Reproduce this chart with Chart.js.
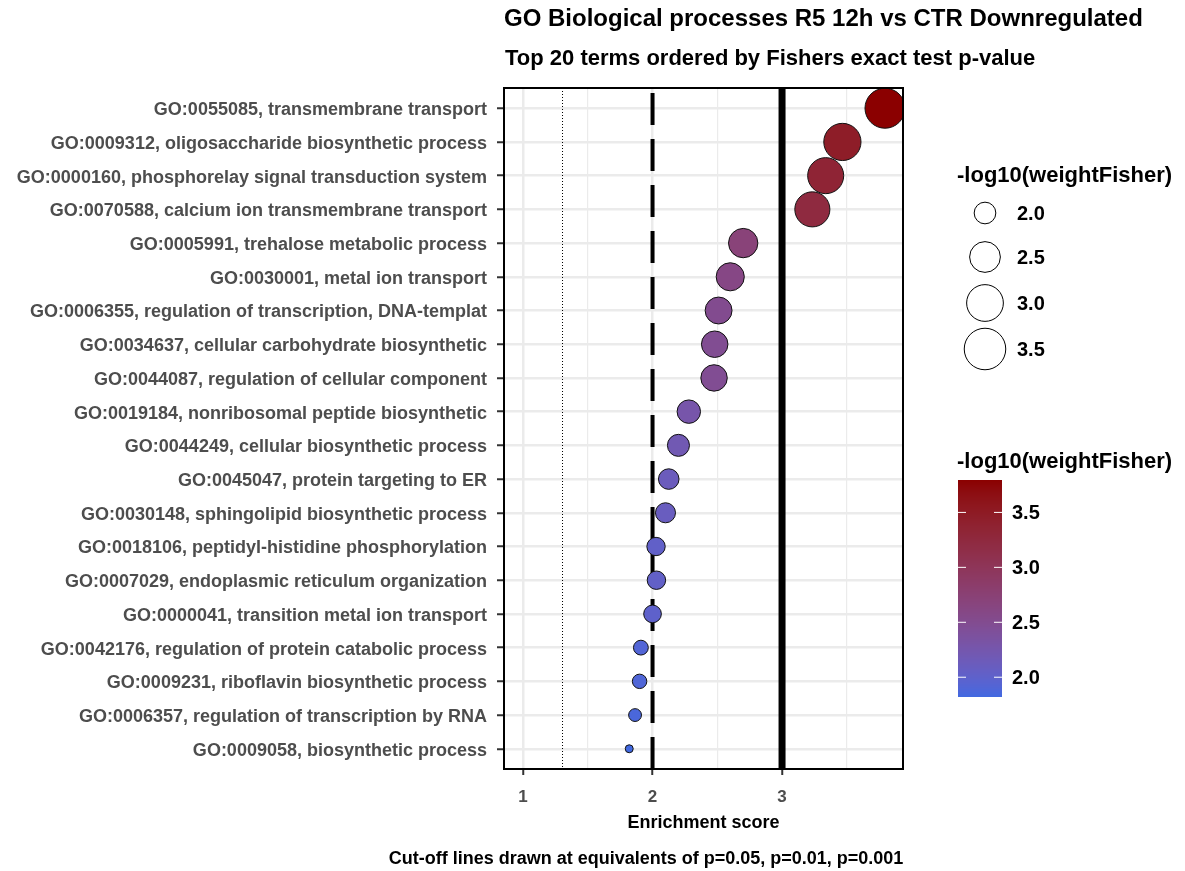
<!DOCTYPE html>
<html>
<head>
<meta charset="utf-8">
<script src="https://cdn.jsdelivr.net/npm/chart.js@4.4.1/dist/chart.umd.min.js"></script>
<style>
  html, body { margin: 0; padding: 0; background: #fff; }
  #wrap { width: 1185px; height: 871px; position: relative; }
</style>
</head>
<body>
<div id="wrap"><canvas id="go"></canvas></div>
<script>
"use strict"
const terms = [
    "GO:0055085, transmembrane transport",
    "GO:0009312, oligosaccharide biosynthetic process",
    "GO:0000160, phosphorelay signal transduction system",
    "GO:0070588, calcium ion transmembrane transport",
    "GO:0005991, trehalose metabolic process",
    "GO:0030001, metal ion transport",
    "GO:0006355, regulation of transcription, DNA-templat",
    "GO:0034637, cellular carbohydrate biosynthetic",
    "GO:0044087, regulation of cellular component",
    "GO:0019184, nonribosomal peptide biosynthetic",
    "GO:0044249, cellular biosynthetic process",
    "GO:0045047, protein targeting to ER",
    "GO:0030148, sphingolipid biosynthetic process",
    "GO:0018106, peptidyl-histidine phosphorylation",
    "GO:0007029, endoplasmic reticulum organization",
    "GO:0000041, transition metal ion transport",
    "GO:0042176, regulation of protein catabolic process",
    "GO:0009231, riboflavin biosynthetic process",
    "GO:0006357, regulation of transcription by RNA",
    "GO:0009058, biosynthetic process"
];
// enrichment score (= -log10(weightFisher))
const enrichment = [3.795, 3.466, 3.337, 3.234, 2.70, 2.60, 2.51, 2.48, 2.475, 2.28,
    2.20, 2.125, 2.10, 2.027, 2.03, 2.00, 1.91, 1.90, 1.865, 1.82];
const weightFisher = enrichment.slice();

const xTicks = [1, 1.5, 2, 2.5, 3, 3.5];
const sizeBreaks = [2.0, 2.5, 3.0, 3.5];
const colorBreaks = [2.0, 2.5, 3.0, 3.5];
const cutoffs = [-Math.log10(0.05), -Math.log10(0.01), -Math.log10(0.001)];

const lowCol = [65, 105, 225];   // royalblue
const highCol = [139, 0, 0];     // darkred
const vMin = Math.min(...weightFisher);
const vMax = Math.max(...weightFisher);

const FONT = "'Liberation Sans', Arial, sans-serif";

// --- Lab colour ramp like ggplot's gradient ---
function lin(c) { c /= 255; return c <= 0.04045 ? c / 12.92 : Math.pow((c + 0.055) / 1.055, 2.4); }
function unlin(c) { c = c <= 0.0031308 ? 12.92 * c : 1.055 * Math.pow(c, 1 / 2.4) - 0.055; return Math.round(Math.max(0, Math.min(1, c)) * 255); }
function toLab(rgb) {
    const r = lin(rgb[0]), g = lin(rgb[1]), b = lin(rgb[2]);
    const X = (0.4124 * r + 0.3576 * g + 0.1805 * b) / 0.95047;
    const Y = 0.2126 * r + 0.7152 * g + 0.0722 * b;
    const Z = (0.0193 * r + 0.1192 * g + 0.9505 * b) / 1.08883;
    const f = t => t > 0.008856 ? Math.cbrt(t) : 7.787 * t + 16 / 116;
    return [116 * f(Y) - 16, 500 * (f(X) - f(Y)), 200 * (f(Y) - f(Z))];
}
function fromLab(lab) {
    const fy = (lab[0] + 16) / 116, fx = fy + lab[1] / 500, fz = fy - lab[2] / 200;
    const inv = t => t * t * t > 0.008856 ? t * t * t : (t - 16 / 116) / 7.787;
    const X = inv(fx) * 0.95047, Y = inv(fy), Z = inv(fz) * 1.08883;
    const r = 3.2406 * X - 1.5372 * Y - 0.4986 * Z;
    const g = -0.9689 * X + 1.8758 * Y + 0.0415 * Z;
    const b = 0.0557 * X - 0.2040 * Y + 1.0570 * Z;
    return [unlin(r), unlin(g), unlin(b)];
}
const labLow = toLab(lowCol), labHigh = toLab(highCol);
function colorFor(v) {
    const t = Math.max(0, Math.min(1, (v - vMin) / (vMax - vMin)));
    const c = fromLab(labLow.map((l, i) => l + (labHigh[i] - l) * t));
    return `rgb(${c[0]},${c[1]},${c[2]})`;
}
function radiusFor(v) {
    const t = Math.max(0, (v - vMin) / (vMax - vMin));
    return 4 + 16 * Math.sqrt(t);
}

const points = enrichment.map((x, i) => ({ x: x, y: i, r: radiusFor(weightFisher[i]) }));

const goPlugin = {
    id: "goExtras",
    beforeDatasetsDraw(chart) {
        const { ctx, chartArea: a, scales: { x } } = chart;
        ctx.save();
        ctx.beginPath();
        ctx.rect(a.left, a.top, a.right - a.left, a.bottom - a.top);
        ctx.clip();
        ctx.strokeStyle = "#000";
        // p = 0.05 dotted
        let px = x.getPixelForValue(cutoffs[0]);
        ctx.lineWidth = 1;
        ctx.setLineDash([1, 2]);
        ctx.beginPath(); ctx.moveTo(px + 0.5, a.top); ctx.lineTo(px + 0.5, a.bottom); ctx.stroke();
        // p = 0.01 dashed
        px = x.getPixelForValue(cutoffs[1]);
        ctx.lineWidth = 4;
        ctx.setLineDash([32, 14]);
        ctx.lineDashOffset = -5;
        ctx.beginPath(); ctx.moveTo(px, a.top); ctx.lineTo(px, a.bottom); ctx.stroke();
        // p = 0.001 solid
        px = x.getPixelForValue(cutoffs[2]);
        ctx.lineWidth = 7;
        ctx.setLineDash([]);
        ctx.beginPath(); ctx.moveTo(px, a.top); ctx.lineTo(px, a.bottom); ctx.stroke();
        ctx.restore();
    },
    afterDatasetsDraw(chart) {
        const { ctx, chartArea: a } = chart;
        ctx.save();
        ctx.strokeStyle = "#000";
        ctx.lineWidth = 2;
        ctx.strokeRect(a.left, a.top, a.right - a.left, a.bottom - a.top);
        ctx.restore();
    },
    afterDraw(chart) {
        const { ctx } = chart;
        ctx.save();
        ctx.fillStyle = "#000";
        ctx.textBaseline = "middle";
        ctx.textAlign = "left";
        ctx.font = `bold 24px ${FONT}`;
        ctx.fillText("GO Biological processes R5 12h vs CTR Downregulated", 504, 19);
        ctx.font = `bold 22px ${FONT}`;
        ctx.fillText("Top 20 terms ordered by Fishers exact test p-value", 505, 59);

        ctx.textAlign = "center";
        ctx.font = `bold 18px ${FONT}`;
        ctx.fillText("Cut-off lines drawn at equivalents of p=0.05, p=0.01, p=0.001", 646, 859);

        // size legend
        ctx.textAlign = "left";
        ctx.font = `bold 22px ${FONT}`;
        ctx.fillText("-log10(weightFisher)", 957, 176);
        const sizeY = [213, 257, 303, 349];
        ctx.font = `bold 20px ${FONT}`;
        sizeBreaks.forEach((v, i) => {
            ctx.beginPath();
            ctx.arc(985, sizeY[i], radiusFor(v) + 2, 0, Math.PI * 2);
            ctx.fillStyle = "#fff";
            ctx.fill();
            ctx.lineWidth = 1;
            ctx.strokeStyle = "#000";
            ctx.stroke();
            ctx.fillStyle = "#000";
            ctx.fillText(v.toFixed(1), 1017, sizeY[i] + 1);
        });

        // colour bar
        ctx.font = `bold 22px ${FONT}`;
        ctx.fillText("-log10(weightFisher)", 957, 462);
        const bx = 958, bw = 44, top = 480, bot = 697;
        for (let yy = top; yy < bot; yy++) {
            const v = vMin + (bot - yy - 0.5) / (bot - top) * (vMax - vMin);
            ctx.fillStyle = colorFor(v);
            ctx.fillRect(bx, yy, bw, 1);
        }
        ctx.font = `bold 20px ${FONT}`;
        colorBreaks.forEach(v => {
            const yy = bot - (v - vMin) / (vMax - vMin) * (bot - top);
            ctx.strokeStyle = "#fff";
            ctx.lineWidth = 1;
            ctx.beginPath();
            ctx.moveTo(bx, yy); ctx.lineTo(bx + 8, yy);
            ctx.moveTo(bx + bw - 8, yy); ctx.lineTo(bx + bw, yy);
            ctx.stroke();
            ctx.fillStyle = "#000";
            ctx.fillText(v.toFixed(1), 1012, yy + 1);
        });
        ctx.restore();
    }
};

new Chart(document.getElementById("go"), {
    type: "bubble",
    plugins: [goPlugin],
    data: {
        datasets: [{
            data: points,
            backgroundColor: weightFisher.map(colorFor),
            borderColor: "#111",
            borderWidth: 1,
            clip: 0
        }]
    },
    options: {
        responsive: true,
        maintainAspectRatio: false,
        animation: false,
        events: [],
        layout: { padding: { top: 88, right: 282, bottom: 32, left: 0 } },
        plugins: { legend: { display: false }, tooltip: { enabled: false } },
        scales: {
            x: {
                type: "linear",
                min: 0.853,
                max: 3.934,
                afterBuildTicks: s => { s.ticks = xTicks.map(v => ({ value: v })); },
                afterFit: s => { s.height = 70; },
                border: { display: false },
                grid: {
                    color: "#EBEBEB",
                    lineWidth: c => Number.isInteger(c.tick.value) ? 2.5 : 1.2,
                    tickLength: 6,
                    tickWidth: 2,
                    tickColor: c => Number.isInteger(c.tick.value) ? "#333" : "rgba(0,0,0,0)"
                },
                ticks: {
                    autoSkip: false,
                    maxRotation: 0,
                    padding: 12,
                    color: "#4D4D4D",
                    font: { family: FONT, size: 17, weight: "bold" },
                    callback: v => Number.isInteger(v) ? String(v) : ""
                },
                title: {
                    display: true,
                    text: "Enrichment score",
                    color: "#000",
                    padding: { top: 0, bottom: 5 },
                    font: { family: FONT, size: 18, weight: "bold" }
                }
            },
            y: {
                type: "linear",
                min: -0.6,
                max: 19.6,
                reverse: true,
                afterBuildTicks: s => { s.ticks = terms.map((_, i) => ({ value: i })); },
                afterFit: s => { s.width = 504; },
                border: { display: false },
                grid: {
                    color: "#EBEBEB",
                    lineWidth: 2.5,
                    tickLength: 7,
                    tickWidth: 2,
                    tickColor: "#333"
                },
                ticks: {
                    autoSkip: false,
                    padding: 10,
                    labelOffset: 2,
                    color: "#4D4D4D",
                    font: { family: FONT, size: 18, weight: "bold" },
                    callback: v => terms[v] || ""
                }
            }
        }
    }
});
</script>
</body>
</html>
